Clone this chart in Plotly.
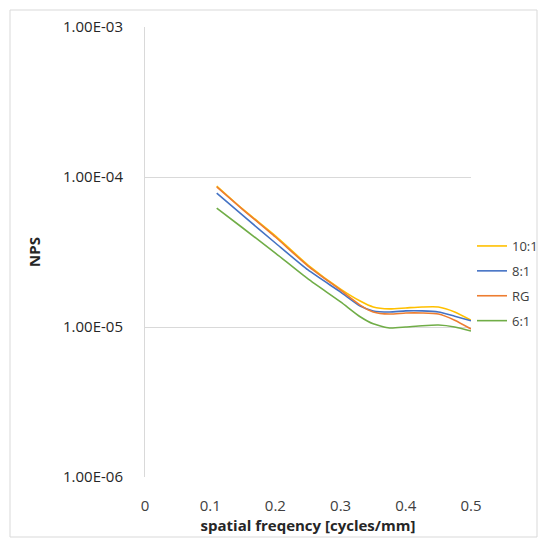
import plotly.graph_objects as go

freq = [0.11, 0.15, 0.2, 0.25, 0.3, 0.33, 0.35, 0.375, 0.4, 0.425, 0.45, 0.475, 0.5]

nps_10_1 = [8.71e-5, 6.1e-5, 4.05e-5, 2.59e-5, 1.79e-5, 1.49e-5, 1.36e-5, 1.32e-5, 1.34e-5, 1.36e-5, 1.36e-5, 1.26e-5, 1.11e-5]
nps_8_1 = [7.82e-5, 5.54e-5, 3.63e-5, 2.40e-5, 1.71e-5, 1.38e-5, 1.28e-5, 1.26e-5, 1.28e-5, 1.28e-5, 1.26e-5, 1.18e-5, 1.10e-5]
nps_rg = [8.58e-5, 6.07e-5, 3.98e-5, 2.55e-5, 1.76e-5, 1.40e-5, 1.26e-5, 1.22e-5, 1.24e-5, 1.24e-5, 1.22e-5, 1.11e-5, 9.7e-6]
nps_6_1 = [6.21e-5, 4.57e-5, 3.11e-5, 2.09e-5, 1.47e-5, 1.17e-5, 1.05e-5, 9.85e-6, 1.0e-5, 1.02e-5, 1.03e-5, 1.0e-5, 9.4e-6]

series_names = ["10:1", "8:1", "RG", "6:1"]
series_values = [nps_10_1, nps_8_1, nps_rg, nps_6_1]
series_colors = ["#FFC000", "#4472C4", "#ED7D31", "#70AD47"]

y_tickvals = [1e-6, 1e-5, 1e-4, 1e-3]
y_ticktext = ["1.00E-06", "1.00E-05", "1.00E-04", "1.00E-03"]
x_tickvals = [0, 0.1, 0.2, 0.3, 0.4, 0.5]
x_ticktext = ["0", "0.1", "0.2", "0.3", "0.4", "0.5"]

fig = go.Figure()
for i, (name, vals, col) in enumerate(zip(series_names, series_values, series_colors)):
    fig.add_trace(go.Scatter(
        x=freq, y=vals, name=name, mode="lines",
        line=dict(color=col, width=1.6, shape="spline", smoothing=0.6),
        legendgroup=f"g{i}",
    ))

L, R, T, B = 145, 76, 27, 69
W, H = 547, 546
pw, ph = W - L - R, H - T - B

font_family = "Open Sans, Liberation Sans, sans-serif"

fig.update_layout(
    width=W, height=H,
    margin=dict(l=L, r=R, t=T, b=B, pad=0, autoexpand=False),
    paper_bgcolor="white", plot_bgcolor="white",
    font=dict(family=font_family, color="#404040", size=14),
    showlegend=True,
    legend=dict(
        xref="container", yref="container",
        x=472 / W, xanchor="left",
        y=1 - 231 / H, yanchor="top",
        font=dict(size=13, color="#404040"),
        tracegroupgap=5,
        bgcolor="rgba(0,0,0,0)",
        itemwidth=30,
    ),
    xaxis=dict(
        range=[0, 0.5], tickvals=x_tickvals, ticktext=x_ticktext,
        showgrid=False, zeroline=False, showline=False,
        ticks="", tickfont=dict(size=15, color="#404040"),
        title=dict(text="<b>spatial freqency [cycles/mm]</b>", font=dict(size=15, color="#262626"), standoff=6),
        ticklabelstandoff=18,
    ),
    yaxis=dict(
        type="log", range=[-6, -3], tickvals=y_tickvals, ticktext=y_ticktext,
        showgrid=True, gridcolor="#D9D9D9", gridwidth=1,
        zeroline=False, showline=True, linecolor="#D9D9D9", linewidth=1,
        ticks="", tickfont=dict(size=15, color="#262626"),
        ticklabelstandoff=18,
        title=dict(text="<b>NPS</b>", font=dict(size=15, color="#262626"), standoff=18),
    ),
    shapes=[dict(
        type="rect", xref="paper", yref="paper",
        x0=(10 - L) / pw, x1=(537 - L) / pw,
        y0=1 - (537 - T) / ph, y1=1 + (T - 10) / ph,
        line=dict(color="#D9D9D9", width=1), fillcolor="rgba(0,0,0,0)", layer="below",
    )],
)

fig.write_html("out.html")
